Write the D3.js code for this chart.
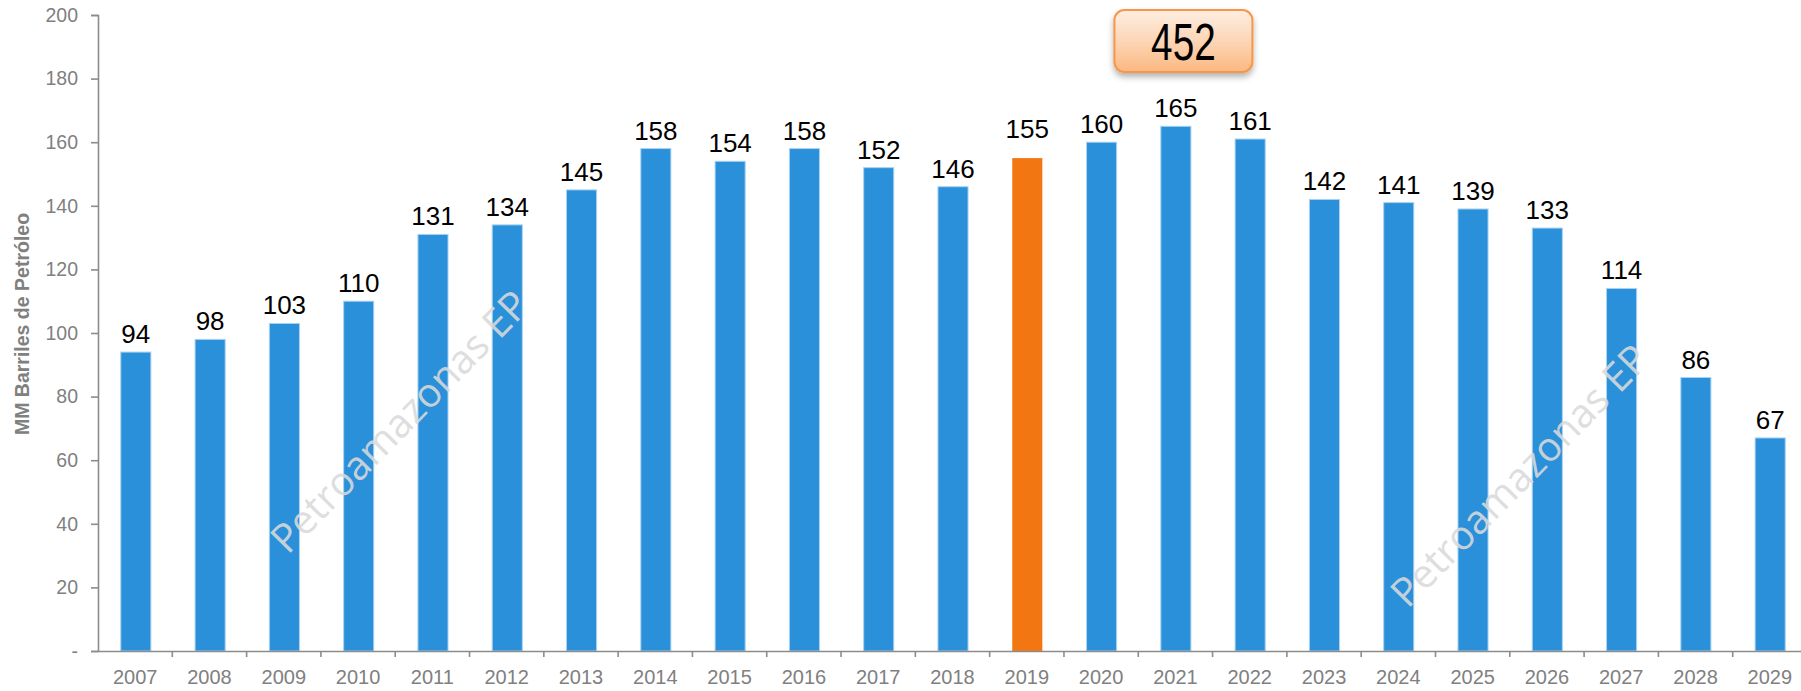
<!DOCTYPE html>
<html>
<head>
<meta charset="utf-8">
<script src="https://cdn.jsdelivr.net/npm/d3@7"></script>
<style>
  html, body { margin: 0; padding: 0; background: #fff; }
  svg { display: block; }
</style>
</head>
<body>
<svg id="chart" width="1801" height="691"></svg>
<script>
const categories = ["2007","2008","2009","2010","2011","2012","2013","2014","2015","2016","2017","2018","2019","2020","2021","2022","2023","2024","2025","2026","2027","2028","2029"];
const values = [94,98,103,110,131,134,145,158,154,158,152,146,155,160,165,161,142,141,139,133,114,86,67];
const highlightYear = "2019";
const yTicks = [0,20,40,60,80,100,120,140,160,180,200];
const yTickLabels = ["-","20","40","60","80","100","120","140","160","180","200"];
const yTitle = "MM Barriles de Petróleo";
const totalLabel = "452";
const watermark = "Petroamazonas EP";

const svg = d3.select("#chart");
const x0 = 98, x1 = 1807, yTop = 15, yBottom = 651;

const x = d3.scaleBand().domain(categories).range([x0, x1]).paddingInner(0.595).paddingOuter(0.3);
const xAxisScale = d3.scaleBand().domain(categories).range([x0, x1]);
const y = d3.scaleLinear().domain([0, 200]).range([yBottom, yTop]);

const defs = svg.append("defs");
const grad = defs.append("linearGradient").attr("id","boxGrad").attr("x1",0).attr("y1",0).attr("x2",0).attr("y2",1);
grad.append("stop").attr("offset","0%").attr("stop-color","#fdeee2");
grad.append("stop").attr("offset","55%").attr("stop-color","#fcd3b1");
grad.append("stop").attr("offset","100%").attr("stop-color","#fbb880");
const shadow = defs.append("filter").attr("id","shadow").attr("x","-20%").attr("y","-20%").attr("width","140%").attr("height","160%");
shadow.append("feDropShadow").attr("dx",0).attr("dy",4).attr("stdDeviation",3).attr("flood-color","#000").attr("flood-opacity",0.3);

// bars
svg.append("g").selectAll("rect").data(categories).join("rect")
  .attr("x", d => x(d) + 0.5)
  .attr("y", (d,i) => y(values[i]))
  .attr("width", x.bandwidth())
  .attr("height", (d,i) => y(0) - y(values[i]))
  .attr("fill", d => d === highlightYear ? "#f27712" : "#2a90d9")
  .attr("stroke", d => d === highlightYear ? "none" : "#a9d2f2")
  .attr("stroke-width", 1);

// watermarks over the plot
const wm2 = svg.append("g");
[[402, 424], [1522, 478]].forEach(([cx, cy]) => {
  wm2.append("text")
    .attr("transform", `translate(${cx},${cy}) rotate(-45.5)`)
    .attr("text-anchor","middle")
    .attr("dominant-baseline","middle")
    .attr("font-family","'Open Sans', 'Noto Sans', sans-serif")
    .attr("font-size", 40)
    .attr("fill", "#dadada")
    .attr("fill-opacity", 0.9)
    .text(watermark);
});

// value labels
svg.append("g").selectAll("text").data(categories).join("text")
  .attr("x", d => x(d) + x.bandwidth()/2 + 0.5)
  .attr("y", (d,i) => y(values[i]) - (d === highlightYear ? 20 : 9))
  .attr("text-anchor","middle")
  .attr("font-family","'Liberation Sans', Arial, sans-serif")
  .attr("font-size", 26)
  .attr("fill","#000")
  .text((d,i) => values[i]);

// y axis
const yAxis = d3.axisLeft(y).tickValues(yTicks).tickSize(7).tickPadding(13)
  .tickFormat((d,i) => yTickLabels[i]);
const gy = svg.append("g").attr("transform", `translate(${x0},0)`).call(yAxis);
gy.select(".domain").attr("stroke","#8c8c8c").attr("stroke-width",1.6);
gy.selectAll(".tick line").attr("stroke","#8c8c8c").attr("stroke-width",1.6);
gy.selectAll(".tick text").attr("fill","#808080").attr("font-size",19.5)
  .attr("font-family","'Liberation Sans', Arial, sans-serif");

// x axis
const xAxis = d3.axisBottom(xAxisScale).tickSize(0).tickPadding(19);
const gx = svg.append("g").attr("transform", `translate(0,${yBottom})`).call(xAxis);
gx.select(".domain").attr("stroke","#8c8c8c").attr("stroke-width",1.6);
gx.selectAll(".tick text").attr("fill","#808080").attr("font-size",20)
  .attr("font-family","'Liberation Sans', Arial, sans-serif");
gx.append("g").selectAll("line").data(categories.slice(1)).join("line")
  .attr("x1", d => xAxisScale(d)).attr("x2", d => xAxisScale(d))
  .attr("y1", 0).attr("y2", 6)
  .attr("stroke","#8c8c8c").attr("stroke-width",1.6);

// y title
svg.append("text")
  .attr("transform", `translate(29,324) rotate(-90)`)
  .attr("text-anchor","middle")
  .attr("font-family","'Liberation Sans', Arial, sans-serif")
  .attr("font-weight","bold")
  .attr("font-size",19.5)
  .attr("fill","#808080")
  .text(yTitle);

// total annotation box
const bx = xAxisScale("2021") + xAxisScale.bandwidth()/2 + 8;
const box = svg.append("g").attr("transform", `translate(${bx},41)`);
box.append("rect")
  .attr("x",-69).attr("y",-31).attr("width",138).attr("height",62)
  .attr("rx",10).attr("ry",10)
  .attr("fill","url(#boxGrad)")
  .attr("stroke","#f79646").attr("stroke-width",2)
  .attr("filter","url(#shadow)");
box.append("text")
  .attr("transform","translate(0,19) scale(0.76,1)")
  .attr("text-anchor","middle")
  .attr("font-family","'Liberation Sans Narrow','Liberation Sans', Arial, sans-serif")
  .attr("font-size",51)
  .attr("fill","#000")
  .text(totalLabel);
</script>
</body>
</html>
